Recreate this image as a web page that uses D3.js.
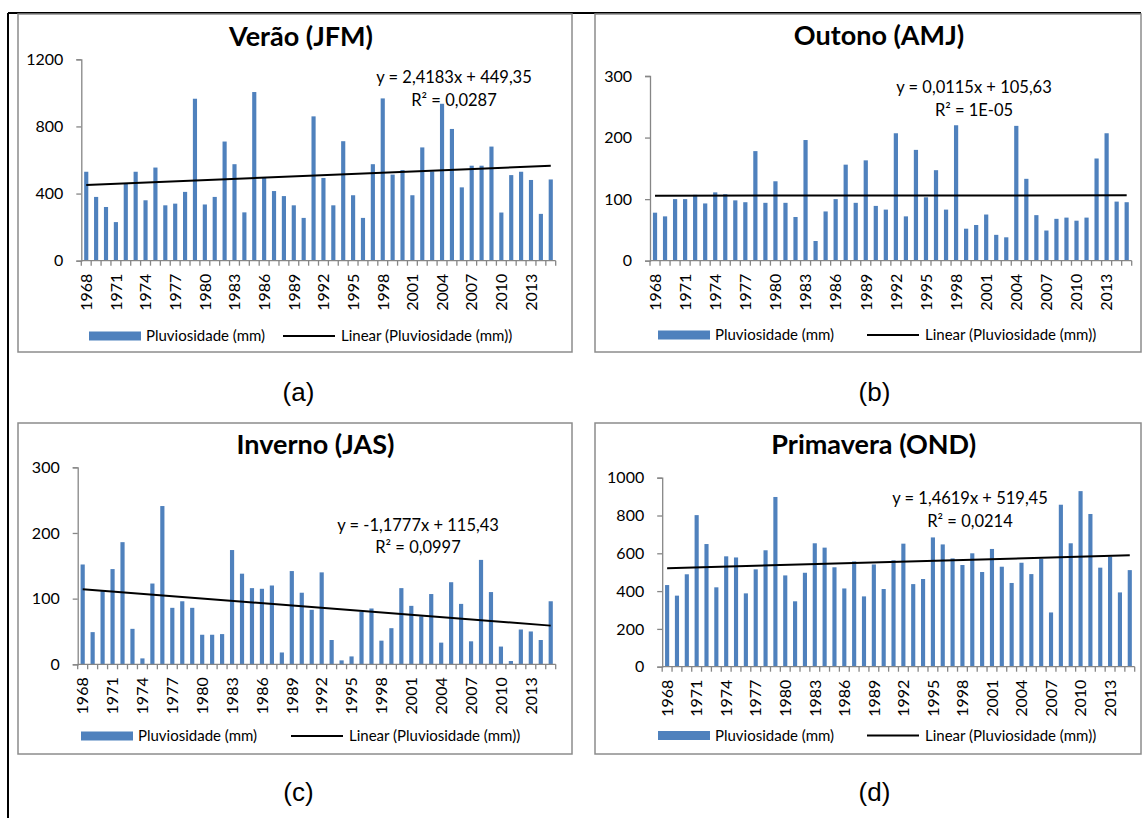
<!DOCTYPE html>
<html>
<head>
<meta charset="utf-8">
<script src="https://cdn.jsdelivr.net/npm/d3@7"></script>
<style>
  body { margin: 0; background: #fff; }
  svg { display: block; }
</style>
</head>
<body>
<div id="chart"></div>
<script>
// Data

const years = [
  1968, 1969, 1970, 1971, 1972, 1973, 1974, 1975, 1976, 1977, 1978, 1979,
  1980, 1981, 1982, 1983, 1984, 1985, 1986, 1987, 1988, 1989, 1990, 1991,
  1992, 1993, 1994, 1995, 1996, 1997, 1998, 1999, 2000, 2001, 2002, 2003,
  2004, 2005, 2006, 2007, 2008, 2009, 2010, 2011, 2012, 2013, 2014, 2015
];

// Pluviosidade (mm) per season
const verao = [
  530, 380, 320, 230, 460, 530, 360, 555, 330, 340, 410, 965,
  335, 380, 710, 575, 288, 1005, 495, 415, 385, 330, 255, 860,
  493, 330, 712, 390, 255, 575, 967, 513, 540, 390, 675, 532,
  935, 785, 437, 566, 566, 680, 287, 510, 530, 481, 279, 484
];
const outono = [
  78, 72, 100, 100, 107, 93, 111, 108, 98, 95, 178, 94,
  129, 94, 71, 196, 32, 80, 100, 156, 94, 163, 89, 83,
  207, 72, 180, 103, 147, 83, 220, 52, 58, 75, 42, 38,
  219, 133, 74, 49, 68, 70, 65, 70, 166, 207, 96, 95
];
const inverno = [
  152, 49, 112, 145, 186, 54, 9, 123, 241, 86, 96, 86,
  45, 45, 46, 174, 138, 116, 115, 120, 18, 142, 109, 83,
  140, 37, 6, 12, 80, 85, 36, 55, 116, 89, 73, 107,
  33, 125, 92, 35, 159, 110, 27, 5, 53, 50, 37, 96
];
const primavera = [
  432, 376, 489, 802, 649, 420, 584, 578, 388, 515, 616, 898,
  483, 346, 497, 653, 630, 526, 414, 557, 372, 541, 411, 563,
  651, 437, 464, 684, 647, 573, 538, 600, 501, 623, 529, 443,
  550, 490, 570, 287, 857, 653, 929, 808, 524, 582, 393, 511
];

// Linear trend lines (x = 1 .. 48)
const trendSlope = [2.4183, 0.0115, -1.1777, 1.4619];
const trendIntercept = [449.35, 105.63, 115.43, 519.45];
const equationLabels = ['y = 2,4183x + 449,35', 'y = 0,0115x + 105,63', 'y = -1,1777x + 115,43', 'y = 1,4619x + 519,45'];
const r2Labels = ['R² = 0,0287', 'R² = 1E-05', 'R² = 0,0997', 'R² = 0,0214'];

const titles = ['Verão (JFM)', 'Outono (AMJ)', 'Inverno (JAS)', 'Primavera (OND)'];
const tags = ['(a)', '(b)', '(c)', '(d)'];
const yTicks = [[0, 400, 800, 1200], [0, 100, 200, 300], [0, 100, 200, 300], [0, 200, 400, 600, 800, 1000]];
const yMax = [1200, 300, 300, 1000];
const xLabelYears = [1968, 1971, 1974, 1977, 1980, 1983, 1986, 1989, 1992, 1995, 1998, 2001, 2004, 2007, 2010, 2013];

const seriesName = 'Pluviosidade (mm)';
const trendName = 'Linear (Pluviosidade (mm))';


// Chart setup

const width = 1147;
const height = 818;
const svg = d3.select('#chart')
  .append('svg')
  .attr('width', width)
  .attr('height', height);

const font = 'Lato, "Open Sans", sans-serif';
const barColor = '#4f81bd';
const axisColor = '#868686';

// outer frame of the figure
svg.append('line')
  .attr('x1', 8).attr('y1', 13).attr('x2', 8).attr('y2', height)
  .attr('stroke', '#000').attr('stroke-width', 2);
svg.append('line')
  .attr('x1', 8).attr('y1', 13).attr('x2', 1141).attr('y2', 13)
  .attr('stroke', '#000').attr('stroke-width', 2);

// layout of each panel (box, plot area, text anchors)
const layout = [
  { box: [18, 14, 572, 352], x0: 81.3, x1: 555.7, yBase: 260.7, yTop: 59.3, titleX: 301, titleY: 46,
    eqX: 454, eqY: 83, r2Y: 106, legRect: 89, legLine: 283, legY: 336, tagX: 298.5, tagY: 401 },
  { box: [595, 14, 1141, 352], x0: 650, x1: 1131.7, yBase: 260.7, yTop: 76, titleX: 879, titleY: 45,
    eqX: 974, eqY: 93, r2Y: 116, legRect: 658, legLine: 867, legY: 335, tagX: 874.5, tagY: 401 },
  { box: [18, 423, 572, 754], x0: 77.7, x1: 555.7, yBase: 664.3, yTop: 467.3, titleX: 315.5, titleY: 454,
    eqX: 418, eqY: 530.7, r2Y: 553.3, legRect: 81, legLine: 291, legY: 736, tagX: 298.5, tagY: 801 },
  { box: [595, 423, 1141, 754], x0: 662.2, x1: 1134.7, yBase: 666.7, yTop: 477.7, titleX: 873.7, titleY: 454,
    eqX: 970, eqY: 504, r2Y: 526.7, legRect: 658, legLine: 867, legY: 735.5, tagX: 874.5, tagY: 801 }
];

const seriesList = [verao, outono, inverno, primavera];

seriesList.forEach((values, i) => {
  const L = layout[i];
  const g = svg.append('g').attr('class', 'panel');

  // panel border
  g.append('rect')
    .attr('x', L.box[0]).attr('y', L.box[1])
    .attr('width', L.box[2] - L.box[0]).attr('height', L.box[3] - L.box[1])
    .attr('fill', '#fff')
    .attr('stroke', '#8c8c8c').attr('stroke-width', 1.5);

  // scales
  const x = d3.scaleBand()
    .domain(years)
    .range([L.x0, L.x1])
    .padding(0);
  const y = d3.scaleLinear()
    .domain([0, yMax[i]])
    .range([L.yBase, L.yTop]);

  // bars
  const barW = x.step() * 0.42;
  g.append('g')
    .selectAll('rect')
    .data(values)
    .enter().append('rect')
    .attr('x', (d, j) => x(years[j]) + x.bandwidth() / 2 - barW / 2)
    .attr('y', d => y(d))
    .attr('width', barW)
    .attr('height', d => y(0) - y(d))
    .attr('fill', barColor);

  // y axis
  const yAxis = g.append('g')
    .attr('transform', `translate(${L.x0},0)`)
    .call(d3.axisLeft(y).tickValues(yTicks[i]).tickSize(5).tickPadding(13).tickFormat(d3.format('d')));
  yAxis.select('.domain').attr('stroke', axisColor).attr('stroke-width', 1.3);
  yAxis.selectAll('.tick line').attr('stroke', axisColor).attr('stroke-width', 1.3);
  yAxis.selectAll('.tick text')
    .attr('fill', '#000')
    .style('font-family', font)
    .style('font-size', '16px');

  // x axis: tick marks at every category boundary
  const xAxis = g.append('g').attr('class', 'x-axis');
  xAxis.append('line')
    .attr('x1', L.x0).attr('x2', L.x1)
    .attr('y1', L.yBase).attr('y2', L.yBase)
    .attr('stroke', axisColor).attr('stroke-width', 1.3);
  xAxis.selectAll('line.tick')
    .data(years.concat([null]))
    .enter().append('line')
    .attr('class', 'tick')
    .attr('x1', (d, j) => L.x0 + j * x.step())
    .attr('x2', (d, j) => L.x0 + j * x.step())
    .attr('y1', L.yBase).attr('y2', L.yBase + 5)
    .attr('stroke', axisColor).attr('stroke-width', 1.3);
  xAxis.selectAll('text')
    .data(xLabelYears)
    .enter().append('text')
    .attr('transform', d => `translate(${x(d) + x.bandwidth() / 2},${L.yBase + 13}) rotate(-90)`)
    .attr('dy', '0.36em')
    .attr('text-anchor', 'end')
    .style('font-family', font)
    .style('font-size', '16px')
    .text(d => d);

  // linear trend line
  const t0 = trendSlope[i] * 1 + trendIntercept[i];
  const t1 = trendSlope[i] * years.length + trendIntercept[i];
  g.append('line')
    .attr('x1', x(years[0]) + x.bandwidth() / 2)
    .attr('y1', y(t0))
    .attr('x2', x(years[years.length - 1]) + x.bandwidth() / 2)
    .attr('y2', y(t1))
    .attr('stroke', '#000').attr('stroke-width', 2);

  // title
  g.append('text')
    .attr('x', L.titleX).attr('y', L.titleY)
    .attr('text-anchor', 'middle')
    .style('font-family', font)
    .style('font-size', '27px')
    .style('font-weight', 'bold')
    .text(titles[i]);

  // equation
  g.append('text')
    .attr('x', L.eqX).attr('y', L.eqY)
    .attr('text-anchor', 'middle')
    .style('font-family', font)
    .style('font-size', '16.5px')
    .text(equationLabels[i]);
  g.append('text')
    .attr('x', L.eqX).attr('y', L.r2Y)
    .attr('text-anchor', 'middle')
    .style('font-family', font)
    .style('font-size', '16.5px')
    .text(r2Labels[i]);

  // legend
  g.append('rect')
    .attr('x', L.legRect).attr('y', L.legY - 4.5)
    .attr('width', 52).attr('height', 9)
    .attr('fill', barColor);
  g.append('text')
    .attr('x', L.legRect + 57).attr('y', L.legY)
    .attr('dy', '0.35em')
    .style('font-family', font)
    .style('font-size', '15px')
    .text(seriesName);
  g.append('line')
    .attr('x1', L.legLine).attr('x2', L.legLine + 52)
    .attr('y1', L.legY).attr('y2', L.legY)
    .attr('stroke', '#000').attr('stroke-width', 2);
  g.append('text')
    .attr('x', L.legLine + 58).attr('y', L.legY)
    .attr('dy', '0.35em')
    .style('font-family', font)
    .style('font-size', '15px')
    .text(trendName);

  // panel tag
  svg.append('text')
    .attr('x', L.tagX).attr('y', L.tagY)
    .attr('text-anchor', 'middle')
    .style('font-family', '"Liberation Sans", Arial, sans-serif')
    .style('font-size', '26px')
    .text(tags[i]);
});
</script>
</body>
</html>
